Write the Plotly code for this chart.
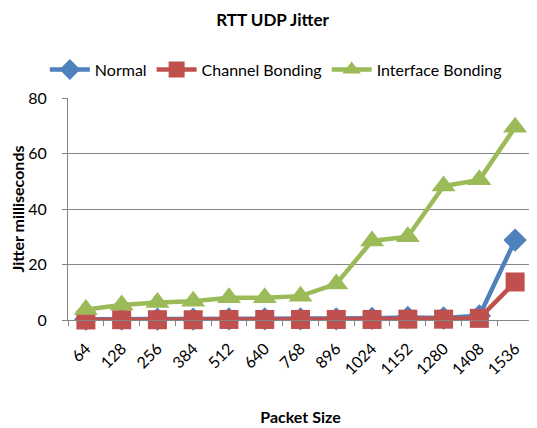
import plotly.graph_objects as go

packet_sizes = ["64", "128", "256", "384", "512", "640", "768", "896", "1024", "1152", "1280", "1408", "1536"]
normal = [0.3, 0.3, 0.3, 0.3, 0.4, 0.4, 0.4, 0.4, 0.6, 0.9, 0.7, 1.5, 28.8]
channel_bonding = [0.0, 0.1, 0.1, 0.1, 0.2, 0.2, 0.2, 0.2, 0.2, 0.3, 0.3, 0.6, 13.7]
interface_bonding = [3.8, 5.4, 6.3, 6.8, 8.0, 8.0, 8.6, 13.0, 28.5, 30.0, 48.3, 50.5, 69.5]

font = "Lato, 'Open Sans', sans-serif"

fig = go.Figure()
fig.add_trace(go.Scatter(x=packet_sizes, y=normal, name="Normal", mode="lines+markers",
                         line=dict(color="#4F81BD", width=4.5),
                         marker=dict(symbol="diamond", size=18, color="#4F81BD"), cliponaxis=False))
fig.add_trace(go.Scatter(x=packet_sizes, y=channel_bonding, name="Channel Bonding", mode="lines+markers",
                         line=dict(color="#C0504D", width=4.5),
                         marker=dict(symbol="square", size=19, color="#C0504D"), cliponaxis=False))
fig.add_trace(go.Scatter(x=packet_sizes, y=interface_bonding, name="Interface Bonding", mode="lines+markers",
                         line=dict(color="#9BBB59", width=4.5),
                         marker=dict(symbol="triangle-up", size=21, color="#9BBB59"), cliponaxis=False))

# page body has an 8px margin, so the figure is drawn 8px in from the top-left
fig.update_layout(
    width=529, height=420,
    margin=dict(l=60, r=4, t=90, b=108),
    paper_bgcolor="white", plot_bgcolor="white",
    font=dict(family=font, size=16, color="black"),
    title=dict(text="<b>RTT UDP Jitter</b>", x=0.5, xanchor="center", y=0.972, yanchor="middle",
               font=dict(size=17)),
    legend=dict(orientation="h", x=0.447, xanchor="center", y=1.128, yanchor="middle",
                font=dict(size=16), tracegroupgap=0, itemwidth=40),
    showlegend=True,
)
fig.update_xaxes(type="category", range=[-0.5, len(packet_sizes) - 0.5], tickangle=-45,
                 tickson="boundaries", ticks="outside", ticklen=5,
                 tickcolor="#868686", showline=True, linecolor="#868686", linewidth=1,
                 showgrid=False, tickfont=dict(size=16), automargin=False, ticklabelstandoff=12,
                 title=dict(text="<b>Packet Size</b>", font=dict(size=16), standoff=34))
fig.update_yaxes(range=[0, 80], dtick=20, ticks="outside", ticklen=5, tickcolor="#868686",
                 showline=True, linecolor="#868686", linewidth=1, showgrid=True,
                 gridcolor="#868686", gridwidth=1, zeroline=False, tickfont=dict(size=16),
                 automargin=False, ticklabelstandoff=12,
                 title=dict(text="<b>Jitter milliseconds</b>", font=dict(size=16), standoff=2))

fig.write_html("out.html")
